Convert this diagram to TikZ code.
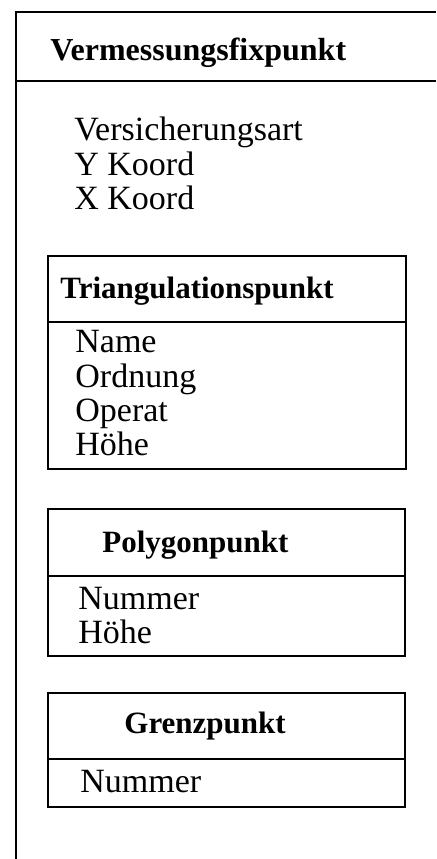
\documentclass[tikz,border=0pt]{standalone}
\usepackage{fontspec}
\setmainfont{Liberation Serif}
\tikzset{
  frame/.style={draw,line width=1.1pt},
  cname/.style={anchor=base west,inner sep=0pt,font=\fontsize{15.5}{15.5}\selectfont\bfseries},
  attr/.style={anchor=base west,inner sep=0pt,font=\fontsize{17}{17}\selectfont}
}

\begin{document}
\begin{tikzpicture}[x=0.5pt,y=-0.5pt]
  \useasboundingbox (0,0) rectangle (436,859);
  % outer class, open to the right and below
  \draw[frame] (436,12) -- (16,12) -- (16,859);
  \draw[frame] (16,81) -- (436,81);
  \node[cname,font=\fontsize{16}{16}\selectfont\bfseries] (vfp) at (50,60) {Vermessungsfixpunkt};
  \node[attr] (vfpa) at (74,140) {Versicherungsart};
  \node[attr] (vfpb) at (74,175) {Y Koord};
  \node[attr] (vfpc) at (74,209) {X Koord};

  % Triangulationspunkt
  \draw[frame] (48,256) rectangle (406,469);
  \draw[frame] (48,322) -- (406,322);
  \node[cname] (tri) at (60,298) {Triangulationspunkt};
  \node[attr] (tria) at (75,352) {Name};
  \node[attr] (trib) at (75,387) {Ordnung};
  \node[attr] (tric) at (75,421) {Operat};
  \node[attr] (trid) at (75,455) {Höhe};

  % Polygonpunkt
  \draw[frame] (48,509) rectangle (405,656);
  \draw[frame] (48,576) -- (405,576);
  \node[cname] (pol) at (102,552) {Polygonpunkt};
  \node[attr] (pola) at (78,609) {Nummer};
  \node[attr] (polb) at (78,643) {Höhe};

  % Grenzpunkt
  \draw[frame] (48,693) rectangle (405,807);
  \draw[frame] (48,759) -- (405,759);
  \node[cname] (gre) at (124,733) {Grenzpunkt};
  \node[attr] (grea) at (80,792) {Nummer};
\end{tikzpicture}
\end{document}
